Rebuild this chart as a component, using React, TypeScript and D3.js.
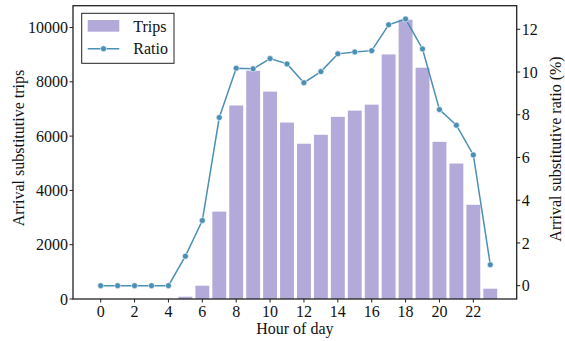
import React from "react";
import * as d3 from "d3";

const hours = d3.range(0, 24);
const trips = [0, 0, 0, 0, 0, 85, 490, 3220, 7130, 8410, 7640, 6500, 5720, 6050, 6710, 6940, 7160, 9010, 10290, 8520, 5790, 4990, 3470, 380];
const ratio = [0, 0, 0, 0, 0, 1.38, 3.05, 7.87, 10.18, 10.15, 10.63, 10.38, 9.5, 10.02, 10.85, 10.94, 11.0, 12.21, 12.48, 11.08, 8.24, 7.51, 6.12, 0.98];
const leftTicks = [0, 2000, 4000, 6000, 8000, 10000];
const rightTicks = [0, 2, 4, 6, 8, 10, 12];
const xTicks = [0, 2, 4, 6, 8, 10, 12, 14, 16, 18, 20, 22];

const W = 565, H = 341;
const L = 73, R = 516.7, T = 5.7, B = 299;
const BAR = "#b4aada";
const LINE = "#4b8fb4";
const AX = "#222";
const FONT = "'Liberation Serif', 'Times New Roman', serif";

export default function App() {
  const x = d3.scaleLinear().domain([-1.635, 24.56]).range([L, R]);
  const bw = (x(1) - x(0)) * 0.82;
  const yL = d3.scaleLinear().domain([0, 10290 * 1.05]).range([B, T]);
  const rMax = d3.max(ratio) as number;
  const yR = d3.scaleLinear().domain([-0.05 * rMax, 1.05 * rMax]).range([B, T]);
  const line = d3.line<number>().x((_, i) => x(hours[i])).y((d) => yR(d));
  const fs = 16;
  return (
    <svg width={W} height={H} style={{ position: "absolute", left: 0, top: 0 }} fontFamily={FONT}>
      <rect width={W} height={H} fill="white" />
      {trips.map((v, i) => (
        <rect key={i} x={x(hours[i]) - bw / 2} y={yL(v)} width={bw} height={B - yL(v)} fill={BAR} />
      ))}
      <path d={line(ratio) || ""} fill="none" stroke={LINE} strokeWidth={1.5} />
      {ratio.map((v, i) => (
        <circle key={i} cx={x(hours[i])} cy={yR(v)} r={3} fill={LINE} stroke="white" strokeWidth={0.6} />
      ))}
      <rect x={L} y={T} width={R - L} height={B - T} fill="none" stroke={AX} strokeWidth={1.3} />
      {leftTicks.map((t) => (
        <g key={t}>
          <line x1={L - 3.5} x2={L} y1={yL(t)} y2={yL(t)} stroke={AX} strokeWidth={1} />
          <text x={L - 5} y={yL(t)} dy="0.35em" textAnchor="end" fontSize={fs} fill="#111">{t}</text>
        </g>
      ))}
      {rightTicks.map((t) => (
        <g key={t}>
          <line x1={R} x2={R + 3.5} y1={yR(t)} y2={yR(t)} stroke={AX} strokeWidth={1} />
          <text x={R + 5} y={yR(t)} dy="0.35em" textAnchor="start" fontSize={fs} fill="#111">{t}</text>
        </g>
      ))}
      {xTicks.map((t) => (
        <g key={t}>
          <line x1={x(t)} x2={x(t)} y1={B} y2={B + 3.5} stroke={AX} strokeWidth={1} />
          <text x={x(t)} y={B + 17.5} textAnchor="middle" fontSize={fs} fill="#111">{t}</text>
        </g>
      ))}
      <text x={(L + R) / 2} y={333.5} textAnchor="middle" fontSize={fs} fill="#111">Hour of day</text>
      <text transform={`translate(23.5,148) rotate(-90)`} textAnchor="middle" fontSize={fs} fill="#111">Arrival substitutive trips</text>
      <text transform={`translate(561,149) rotate(-90)`} textAnchor="middle" fontSize={fs} fill="#111">Arrival substitutive ratio (%)</text>
      <g>
        <rect x={81.7} y={13.3} width={92.3} height={50} fill="white" stroke={AX} strokeWidth={1} />
        <rect x={87.7} y={20} width={31.6} height={11.7} fill={BAR} />
        <text x={133.3} y={31.5} fontSize={fs} fill="#111">Trips</text>
        <line x1={87.7} x2={119.3} y1={48.7} y2={48.7} stroke={LINE} strokeWidth={1.5} />
        <circle cx={103.5} cy={48.7} r={3} fill={LINE} stroke="white" strokeWidth={0.6} />
        <text x={133.3} y={53.5} fontSize={fs} fill="#111">Ratio</text>
      </g>
    </svg>
  );
}
